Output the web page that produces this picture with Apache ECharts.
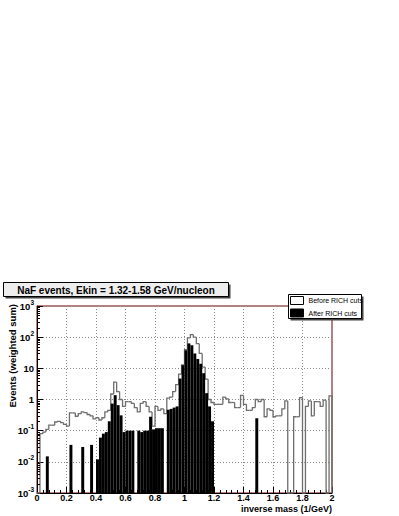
<!DOCTYPE html>
<html><head><meta charset="utf-8">
<script src="https://cdn.jsdelivr.net/npm/echarts@6/dist/echarts.min.js"></script>
<style>html,body{margin:0;padding:0;background:#fff}#c{width:399px;height:516px}</style>
</head><body><div id="c"></div>
<script>
// ---- data (100 bins, 0..2, width 0.02) ----
const XMIN = 0, XMAX = 2, BINW = 0.02;
const YMIN = 0.001, YMAX = 1000;
const xTickLabels = ['0','0.2','0.4','0.6','0.8','1','1.2','1.4','1.6','1.8','2'];
const yTickExponents = [-3,-2,-1,0,1,2,3];
const seriesNames = ['Before RICH cuts', 'After RICH cuts'];
const before = [
  0, 0.08, 0.09, 0.11, 0.15, 0.15, 0.19, 0.2, 0.18, 0.16,
  0.14, 0.37, 0.37, 0.29, 0.35, 0.4, 0.38, 0.33, 0.3, 0.24,
  0.26, 0.22, 0.26, 0.4, 0.45, 1.5, 3.6, 1.8, 1.0, 0.6,
  0.85, 0.85, 0.75, 0.55, 0.4, 0.75, 0.85, 0.6, 0.4, 0.14,
  0.6, 0.45, 0.5, 0.35, 1.1, 1.2, 1.8, 3, 6.5, 13,
  40, 95, 120, 100, 62, 30, 11, 4.5, 1.0, 0.8,
  0.7, 0.7, 0.7, 1.2, 1.05, 0.8, 0.8, 0.55, 0.55, 1.35,
  0.7, 0.45, 0.45, 0.55, 1.0, 0.85, 1.0, 0.28, 0.5, 0.45,
  0.28, 0.3, 0.3, 0.5, 0.9, 0, 0, 0.28, 0.28, 1.15,
  0, 0.6, 0.9, 0.3, 0.85, 0.85, 0.6, 0.95, 0, 1.3
];
const after = [
  0, 0, 0, 0.015, 0, 0, 0, 0, 0, 0,
  0, 0.035, 0, 0, 0, 0.03, 0, 0, 0.035, 0,
  0.012, 0.06, 0.08, 0.09, 0.2, 0.74, 1.38, 0.66, 0.31, 0.09,
  0.1, 0.1, 0.1, 0, 0.1, 0.09, 0.1, 0.1, 0.28, 0.11,
  0.12, 0.12, 0.12, 0, 0.47, 0.5, 0.55, 0.6, 4.7, 12.6,
  38, 63, 55, 30, 20, 14, 7, 1.6, 0.6, 0.2,
  0, 0, 0, 0, 0, 0, 0, 0, 0, 0,
  0, 0, 0, 0, 0.25, 0, 0, 0, 0, 0,
  0, 0, 0, 0, 0, 0, 0, 0, 0, 0,
  0, 0, 0, 0, 0, 0, 0, 0, 0, 0
];

const FONT = '"Liberation Sans", Arial, Helvetica, sans-serif';
const clampY = v => (v > YMIN ? v : YMIN);
const binData = arr => arr.map((v, i) => [XMIN + i * BINW, XMIN + (i + 1) * BINW, clampY(v)]);

// minor tick values on the log axis (2..9 x 10^k)
const minorTickVals = [];
for (let k = -3; k < 3; k++) for (let m = 2; m <= 9; m++) minorTickVals.push(m * Math.pow(10, k));

function yFmt(v) {
  const e = Math.round(Math.log10(v));
  if (e === 0) return '{b|1}';
  if (e === 1) return '{b|10}';
  return '{b2|10}{s|' + e + '}';
}

const chart = echarts.init(document.getElementById('c'), null, {renderer: 'svg', width: 399, height: 516});
chart.setOption({
  animation: false,
  backgroundColor: '#fff',
  grid: {left: 37, right: 67, top: 306, bottom: 23, show: true, borderColor: '#7a0000', borderWidth: 1,
         backgroundColor: 'transparent', containLabel: false, outerBoundsMode: 'none'},
  xAxis: {
    type: 'value', min: XMIN, max: XMAX, interval: 0.2,
    axisLine: {show: true, onZero: false, lineStyle: {color: '#000', width: 1}},
    axisTick: {show: true, inside: true, length: 6, lineStyle: {color: '#000'}},
    minorTick: {show: true, splitNumber: 5, length: 3, lineStyle: {color: '#000'}},
    axisLabel: {margin: 0, fontSize: 9, lineHeight: 9, fontWeight: 'bold', fontFamily: FONT, color: '#000',
      formatter: v => xTickLabels[Math.round((v - XMIN) / 0.2)] || ''},
    splitLine: {show: true, lineStyle: {color: '#8a8a8a', type: [1, 2], width: 1}}
  },
  yAxis: {
    type: 'log', logBase: 10, min: YMIN, max: YMAX, splitNumber: 6,
    axisLine: {show: true, lineStyle: {color: '#000', width: 1}},
    axisTick: {show: true, inside: true, length: 6, lineStyle: {color: '#000'}},
    axisLabel: {margin: 3, color: '#000', formatter: yFmt,
      rich: {
        b: {fontSize: 9.5, fontWeight: 'bold', fontFamily: FONT, color: '#000'},
        b2: {fontSize: 9.5, fontWeight: 'bold', fontFamily: FONT, color: '#000', lineHeight: 10, padding: [2, 0, 2, 0]},
        s: {fontSize: 6.5, fontWeight: 'bold', fontFamily: FONT, color: '#000', lineHeight: 6, padding: [0, 0, 8, 0]}
      }},
    splitLine: {show: true, lineStyle: {color: '#8a8a8a', type: [1, 2], width: 1}}
  },
  legend: {
    orient: 'vertical', left: 290, top: 296, itemWidth: 13, itemHeight: 8, itemGap: 3.5, padding: 0,
    selectedMode: false, z: 20,
    textStyle: {fontSize: 7, fontFamily: FONT, color: '#000'},
    data: [
      {name: seriesNames[0], icon: 'rect', itemStyle: {color: '#fff', borderColor: '#000', borderWidth: 1}},
      {name: seriesNames[1], icon: 'rect', itemStyle: {color: '#000', borderColor: '#000', borderWidth: 1}}
    ]
  },
  graphic: [
    {type: 'rect', z: 10, shape: {x: 5.5, y: 284.5, width: 225, height: 14}, style: {fill: '#444'}},
    {type: 'rect', z: 11, shape: {x: 3.5, y: 282.5, width: 225, height: 14}, style: {fill: '#eeeeee', stroke: '#000', lineWidth: 1}},
    {type: 'text', z: 12, x: 116, y: 290, style: {text: 'NaF events, Ekin = 1.32-1.58 GeV/nucleon', fill: '#000',
      font: 'bold 10px ' + FONT, textAlign: 'center', textVerticalAlign: 'middle'}},
    {type: 'rect', z: 10, shape: {x: 290.5, y: 296.5, width: 73, height: 24}, style: {fill: '#444'}},
    {type: 'rect', z: 11, shape: {x: 288.5, y: 294.5, width: 73, height: 24}, style: {fill: '#fff', stroke: '#000', lineWidth: 1}},
    {type: 'text', z: 12, x: 12.5, y: 304, rotation: Math.PI / 2, style: {text: 'Events (weighted sum)', fill: '#000',
      font: 'bold 9.5px ' + FONT, textAlign: 'right', textVerticalAlign: 'middle'}},
    {type: 'text', z: 12, x: 332, y: 508.5, style: {text: 'inverse mass (1/GeV)', fill: '#000',
      font: 'bold 9px ' + FONT, textAlign: 'right', textVerticalAlign: 'middle'}}
  ],
  series: [
    {
      type: 'custom', name: seriesNames[0], coordinateSystem: 'cartesian2d', z: 3,
      data: binData(before), encode: {x: [0, 1], y: 2},
      renderItem: function (params, api) {
        const i = params.dataIndex;
        const x0 = api.value(0), x1 = api.value(1), v = api.value(2);
        const vp = i > 0 ? clampY(before[i - 1]) : YMIN;
        const pts = [api.coord([x0, vp]), api.coord([x0, v]), api.coord([x1, v])];
        if (i === before.length - 1) pts.push(api.coord([x1, YMIN]));
        return {type: 'polyline', shape: {points: pts}, style: {fill: null, stroke: '#6e6e6e', lineWidth: 1.3}};
      }
    },
    {
      type: 'custom', name: seriesNames[1], coordinateSystem: 'cartesian2d', z: 4,
      data: binData(after), encode: {x: [0, 1], y: 2},
      renderItem: function (params, api) {
        const i = params.dataIndex;
        if (!(after[i] > 0)) return null;
        const p0 = api.coord([api.value(0), api.value(2)]);
        const p1 = api.coord([api.value(1), YMIN]);
        return {type: 'rect', shape: {x: p0[0], y: p0[1], width: p1[0] - p0[0], height: p1[1] - p0[1]},
                style: {fill: '#000', stroke: null}};
      }
    },
    {
      type: 'custom', name: 'minorTicks', coordinateSystem: 'cartesian2d', z: 5, silent: true,
      data: minorTickVals.map(v => [XMIN, v]), encode: {x: 0, y: 1},
      renderItem: function (params, api) {
        const p = api.coord([api.value(0), api.value(1)]);
        return {type: 'line', shape: {x1: p[0], y1: Math.round(p[1]) + 0.5, x2: p[0] + 3, y2: Math.round(p[1]) + 0.5},
                style: {stroke: '#000', lineWidth: 1}};
      }
    }
  ]
});
</script></body></html>
